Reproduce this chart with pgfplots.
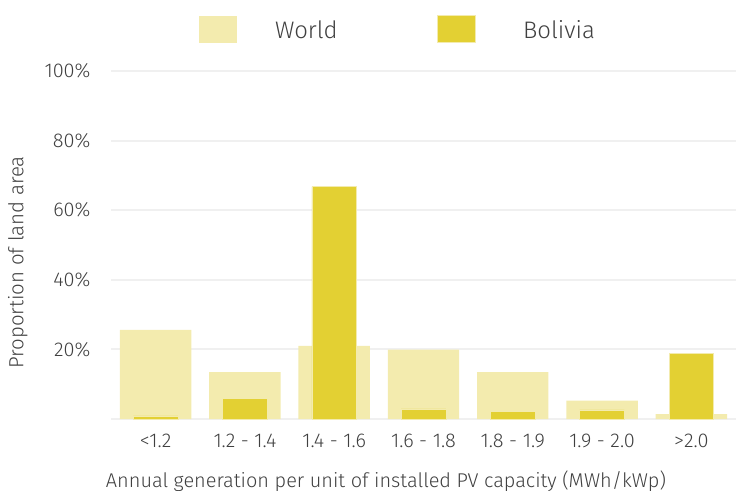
\documentclass[border=0pt]{standalone}
\usepackage{fontspec}
\setmainfont{Fira Sans}[UprightFont=* Light]
\usepackage{pgfplots}
\pgfplotsset{compat=1.18}
\definecolor{worldc}{HTML}{F3EBAE}
\definecolor{bolc}{HTML}{E3D033}
\definecolor{gridc}{HTML}{F0F0F0}
\definecolor{txt}{HTML}{404040}

\pgfplotstableread{
x world bolivia
0 25.6 0.9
1 13.5 6.0
2 21.0 66.8
3 19.9 2.9
4 13.5 2.2
5 5.3  2.6
6 1.4  18.9
}\landdata

\begin{document}
\begin{tikzpicture}
\begin{axis}[
  scale only axis,
  width=625bp, height=348bp,
  xmin=-0.5, xmax=6.5,
  ymin=0, ymax=100,
  axis line style={draw=none},
  major tick length=0pt,
  xtick=data,
  xticklabels={<1.2, 1.2 - 1.4, 1.4 - 1.6, 1.6 - 1.8, 1.8 - 1.9, 1.9 - 2.0, >2.0},
  ytick={0,20,40,60,80,100},
  yticklabels={,20\%,40\%,60\%,80\%,100\%},
  ymajorgrids,
  major grid style={gridc, line width=2bp},
  tick label style={font=\fontsize{20}{24}\selectfont, text=txt},
  /pgf/number format/assume math mode=true,
  xticklabel style={yshift=-12bp},
  yticklabel style={xshift=-17bp},
  xlabel={Annual generation per unit of installed PV capacity (MWh/kWp)},
  xlabel style={at={(axis description cs:0.44,0)}, anchor=north, yshift=-48bp, font=\fontsize{20}{24}\selectfont, text=txt},
  ylabel={Proportion of land area},
  ylabel style={at={(axis description cs:0,0.45)}, anchor=south, yshift=80bp, font=\fontsize{20.5}{24}\selectfont, text=txt},
  legend columns=2,
  legend style={at={(axis description cs:0.136,1.12)}, anchor=west, draw=none, fill=none,
    font=\fontsize{24}{28}\selectfont, text=txt,
    /tikz/every even column/.append style={column sep=99bp},
    /tikz/every odd column/.append style={column sep=0bp}},
  legend image code/.code={\fill[#1] (0bp,-13.5bp) rectangle (38bp,13.5bp);},
  every axis legend/.append style={nodes={inner sep=0bp, text depth=0pt}},
  legend cell align=left,
]
\addplot[ybar, bar width=0.8, bar shift=0pt, fill=worldc, draw=none] table[x=x, y=world] {\landdata};
\addplot[ybar, bar width=0.5, bar shift=0pt, fill=bolc, draw=worldc, line width=0.6bp] table[x=x, y=bolivia] {\landdata};
\legend{\hspace{38bp}World,\hspace{48bp}Bolivia}
\end{axis}
\pgfresetboundingbox
\path[use as bounding box] (-111bp,-72bp) rectangle (625bp,419bp);
\end{tikzpicture}
\end{document}
